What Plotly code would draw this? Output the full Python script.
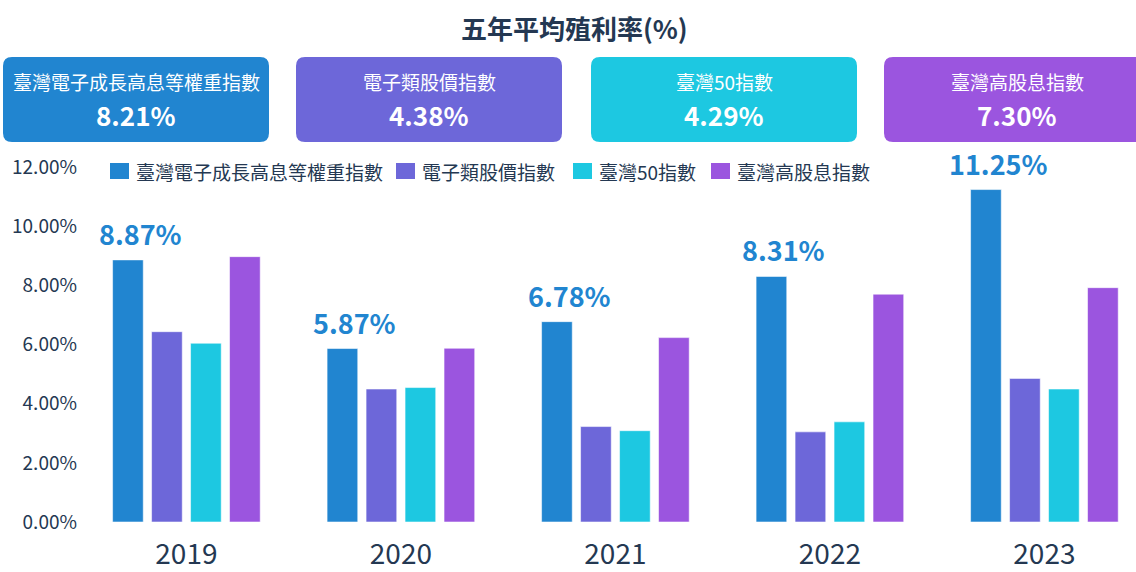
import plotly.graph_objects as go

# ---------------- data ----------------
years = ["2019", "2020", "2021", "2022", "2023"]
series_names = ["臺灣電子成長高息等權重指數", "電子類股價指數", "臺灣50指數", "臺灣高股息指數"]
elec_growth = [8.87, 5.87, 6.78, 8.31, 11.25]
elec_price = [6.44, 4.50, 3.23, 3.05, 4.86]
tw50 = [6.05, 4.55, 3.09, 3.39, 4.50]
tw_high_div = [8.98, 5.88, 6.24, 7.71, 7.93]
five_year_avg = [8.21, 4.38, 4.29, 7.30]
y_ticks = [0, 2, 4, 6, 8, 10, 12]
y_tick_text = [f"{v:.2f}%" for v in y_ticks]
title_text = "五年平均殖利率(%)"

colors = ["#2185D0", "#6D67D9", "#1DC8E1", "#9B55DF"]
text_dark = "#243852"
FONT = "Noto Sans CJK TC"

W, H = 1136, 572
L, R, T, B = 82, 0, 160, 50
PW, PH = W - L - R, H - T - B


def px(x):
    return (x - L) / PW


def py(y):
    return (H - B - y) / PH


fig = go.Figure()
all_series = [elec_growth, elec_price, tw50, tw_high_div]
for name, vals, col in zip(series_names, all_series, colors):
    fig.add_trace(go.Bar(
        x=years, y=vals, name=name,
        marker=dict(color=col, line=dict(color="rgba(255,255,255,0.55)", width=1)),
        showlegend=False, hoverinfo="x+y+name",
    ))

shapes = []
annotations = []

# summary boxes
box_left = [3, 296, 591, 884]
box_w, box_top, box_bot, rad = 266, 57, 142, 9
for bx, name, val, col in zip(box_left, series_names, five_year_avg, colors):
    x0, x1 = px(bx), px(bx + box_w)
    y0, y1 = py(box_bot), py(box_top)
    rx, ry = rad / PW, rad / PH
    path = (f"M{x0+rx},{y1} L{x1-rx},{y1} Q{x1},{y1} {x1},{y1-ry} "
            f"L{x1},{y0+ry} Q{x1},{y0} {x1-rx},{y0} L{x0+rx},{y0} "
            f"Q{x0},{y0} {x0},{y0+ry} L{x0},{y1-ry} Q{x0},{y1} {x0+rx},{y1} Z")
    shapes.append(dict(type="path", path=path, xref="paper", yref="paper",
                       fillcolor=col, line=dict(width=0), layer="above"))
    cx = px(bx + box_w / 2)
    annotations.append(dict(x=cx, y=py(81.5), xref="paper", yref="paper", text=name,
                            showarrow=False, xanchor="center", yanchor="middle",
                            font=dict(family=FONT, size=19, color="white")))
    annotations.append(dict(x=cx, y=py(115), xref="paper", yref="paper", text=f"{val:.2f}%",
                            showarrow=False, xanchor="center", yanchor="middle",
                            font=dict(family=FONT, size=26, color="white", weight=700)))

# custom legend
leg_x = [110, 396, 573, 711]
for lx, name, col in zip(leg_x, series_names, colors):
    shapes.append(dict(type="rect", xref="paper", yref="paper",
                       x0=px(lx), x1=px(lx + 19), y0=py(179), y1=py(163),
                       fillcolor=col, line=dict(width=0)))
    annotations.append(dict(x=px(lx + 24), y=py(171), xref="paper", yref="paper", text=name,
                            showarrow=False, xanchor="left", yanchor="middle",
                            font=dict(family=FONT, size=19, color=text_dark)))

# value labels above the first series (category index positions)
for i, v in enumerate(elec_growth):
    annotations.append(dict(x=i, y=v, xref="x", yref="y", text=f"{v:.2f}%",
                            showarrow=False, xanchor="center", yanchor="bottom",
                            xshift=-46, yshift=5,
                            font=dict(family=FONT, size=27, color=colors[0], weight=700)))

# title
annotations.append(dict(x=px(574), y=py(27), xref="paper", yref="paper", text=title_text,
                        showarrow=False, xanchor="center", yanchor="middle",
                        font=dict(family=FONT, size=26, color=text_dark, weight=700)))

cat_w = 214.5
c0 = 186.4
fig.update_layout(
    width=W, height=H,
    margin=dict(l=L, r=R, t=T, b=B, pad=0),
    paper_bgcolor="white", plot_bgcolor="white",
    barmode="group", bargap=0.273, bargroupgap=0.213,
    shapes=shapes, annotations=annotations,
    xaxis=dict(type="category", range=[(L - c0) / cat_w, (W - R - c0) / cat_w],
               showgrid=False, showline=False, zeroline=False, ticks="",
               tickfont=dict(family=FONT, size=28, color=text_dark),
               ticklabelstandoff=13, automargin=False),
    yaxis=dict(range=[0, PH / 29.55], tickmode="array", tickvals=y_ticks, ticktext=y_tick_text,
               showgrid=False, showline=False, zeroline=False, ticks="",
               tickfont=dict(family=FONT, size=19, color=text_dark),
               ticklabelstandoff=4, automargin=False),
    font=dict(family=FONT),
)

fig.write_html("out.html", config={"displayModeBar": False},
               post_script="document.body.style.margin='0';")
